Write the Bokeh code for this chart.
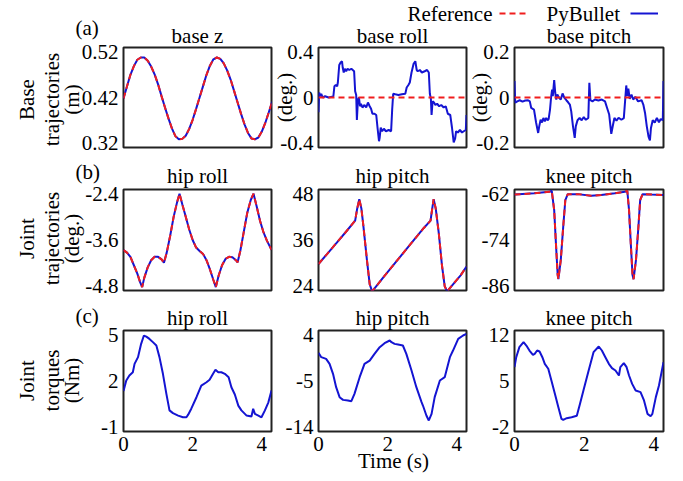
import math
from bokeh.plotting import figure
from bokeh.models import (Range1d, FixedTicker, Label, Legend, LegendItem, GridBox, Spacer)
from bokeh.layouts import column, row
from bokeh.embed import file_html
from bokeh.resources import INLINE
from bokeh.core.properties import value

FONT = "Liberation Serif"
BLUE = "#1414d2"
RED = "#f01e1e"
T_END = 4.28

# ---------------- data ----------------
x_ticks = [0, 2, 4]
x_tick_labels = ["0", "2", "4"]

# (a) base z  (m)
t_base_z = [0.0, 0.1, 0.2, 0.3, 0.4, 0.5, 0.6, 0.7, 0.8, 0.9, 1.0, 1.1, 1.2, 1.3, 1.4,
            1.5, 1.6, 1.7, 1.8, 1.9, 2.0, 2.1, 2.2, 2.3, 2.4, 2.5, 2.6, 2.7, 2.8, 2.9,
            3.0, 3.1, 3.2, 3.3, 3.4, 3.5, 3.6, 3.7, 3.8, 3.9, 4.0, 4.1, 4.2, 4.3]
base_z = [0.418, 0.444, 0.470, 0.489, 0.503, 0.508, 0.508, 0.501, 0.488, 0.471, 0.449,
          0.423, 0.398, 0.374, 0.352, 0.335, 0.328, 0.329, 0.336, 0.351, 0.371, 0.395,
          0.420, 0.445, 0.470, 0.490, 0.504, 0.508, 0.505, 0.495, 0.479, 0.459, 0.434,
          0.409, 0.384, 0.361, 0.342, 0.330, 0.328, 0.332, 0.345, 0.364, 0.387, 0.411]
base_z_ref = base_z

# (a) base roll (deg.)
t_base_roll = [0.00, 0.02, 0.05, 0.08, 0.12, 0.19, 0.29, 0.39, 0.43, 0.46, 0.50, 0.54, 0.56,
               0.60, 0.64, 0.68, 0.70, 0.73, 0.76, 0.80, 0.84, 0.89, 0.95, 0.99, 1.03, 1.06,
               1.09, 1.11, 1.14, 1.17, 1.20, 1.23, 1.27, 1.33, 1.38, 1.43, 1.48, 1.52, 1.56,
               1.62, 1.67, 1.71, 1.75, 1.77, 1.80, 1.84, 1.89, 1.95, 2.03, 2.10, 2.13, 2.16,
               2.22, 2.31, 2.41, 2.51, 2.55, 2.60, 2.64, 2.69, 2.75, 2.80, 2.84, 2.87, 2.93,
               2.99, 3.07, 3.14, 3.19, 3.22, 3.25, 3.27, 3.30, 3.34, 3.38, 3.43, 3.49, 3.55,
               3.62, 3.68, 3.74, 3.81, 3.86, 3.91, 3.95, 3.98, 4.03, 4.09, 4.15, 4.20, 4.26,
               4.28]
base_roll = [-0.13, 0.044, 0.011, 0.033, 0.0, 0.011, 0.0, 0.006, 0.011, 0.099, 0.11, 0.099,
             0.132, 0.286, 0.308, 0.319, 0.264, 0.22, 0.253, 0.231, 0.253, 0.242, 0.253,
             0.242, 0.231, 0.055, 0.022, -0.198, -0.022, 0.0, -0.077, -0.055, -0.088,
             -0.066, -0.088, -0.044, -0.077, -0.099, -0.143, -0.143, -0.154, -0.275, -0.385,
             -0.352, -0.264, -0.297, -0.275, -0.297, -0.286, -0.297, -0.11, 0.033, 0.028,
             0.022, 0.028, 0.033, 0.088, 0.11, 0.132, 0.22, 0.297, 0.319, 0.242, 0.231,
             0.242, 0.22, 0.231, 0.242, 0.22, 0.033, -0.011, -0.154, -0.033, -0.044, -0.066,
             -0.055, -0.077, -0.066, -0.088, -0.077, -0.143, -0.154, -0.264, -0.396, -0.363,
             -0.297, -0.308, -0.286, -0.308, -0.297, -0.286, -0.154]

# (a) base pitch (deg.)
t_base_pitch = [0.00, 0.02, 0.08, 0.15, 0.23, 0.31, 0.39, 0.44, 0.48, 0.56, 0.62, 0.68, 0.71,
                0.75, 0.79, 0.83, 0.87, 0.91, 0.95, 0.98, 1.02, 1.05, 1.08, 1.10, 1.14, 1.17,
                1.20, 1.23, 1.28, 1.33, 1.38, 1.43, 1.49, 1.54, 1.59, 1.63, 1.68, 1.73, 1.76,
                1.81, 1.87, 1.93, 1.99, 2.05, 2.12, 2.15, 2.18, 2.24, 2.31, 2.41, 2.51, 2.60,
                2.66, 2.72, 2.78, 2.83, 2.87, 2.93, 2.99, 3.07, 3.14, 3.18, 3.21, 3.24, 3.27,
                3.31, 3.36, 3.41, 3.47, 3.55, 3.65, 3.70, 3.75, 3.80, 3.85, 3.89, 3.92, 3.97,
                4.03, 4.09, 4.15, 4.20, 4.26, 4.28]
base_pitch = [0.073, -0.023, -0.017, -0.012, -0.018, -0.013, -0.012, -0.017, -0.046, -0.053,
              -0.11, -0.156, -0.127, -0.098, -0.11, -0.09, -0.105, -0.09, -0.1, -0.095,
              -0.053, -0.001, 0.035, 0.006, 0.077, 0.021, -0.009, 0.013, -0.001, -0.009,
              0.018, -0.001, -0.012, -0.021, -0.031, -0.061, -0.127, -0.178, -0.127, -0.1,
              -0.09, -0.1, -0.086, -0.098, -0.09, 0.065, -0.012, -0.017, -0.009, -0.013,
              -0.009, -0.017, -0.046, -0.075, -0.16, -0.12, -0.09, -0.102, -0.089, -0.098,
              -0.091, -0.009, 0.053, 0.006, 0.039, -0.006, 0.013, -0.009, 0.003, -0.017,
              -0.012, -0.031, -0.068, -0.127, -0.172, -0.189, -0.134, -0.1, -0.11, -0.09,
              -0.109, -0.095, -0.1, 0.073]

t_zero_ref = [0.0, 4.28]
zero_ref = [0.0, 0.0]

# (b) hip roll (deg.)
t_hip_roll = [0.0, 0.1, 0.2, 0.3, 0.4, 0.48, 0.54, 0.6, 0.7, 0.8, 0.9, 1.0, 1.1, 1.17, 1.25,
              1.35, 1.45, 1.55, 1.62, 1.7, 1.8, 1.9, 2.0, 2.1, 2.2, 2.3, 2.4, 2.5, 2.6, 2.67,
              2.75, 2.85, 2.95, 3.05, 3.15, 3.25, 3.30, 3.38, 3.48, 3.58, 3.68, 3.76, 3.85,
              3.95, 4.05, 4.15, 4.28]
hip_roll = [-3.864, -3.93, -4.04, -4.26, -4.48, -4.70, -4.83, -4.59, -4.315, -4.128, -4.04,
            -4.04, -4.106, -4.194, -3.93, -3.49, -2.995, -2.61, -2.39, -2.665, -2.995, -3.325,
            -3.6, -3.798, -3.886, -3.963, -4.128, -4.37, -4.645, -4.83, -4.535, -4.26, -4.095,
            -4.04, -4.051, -4.128, -4.183, -3.875, -3.38, -2.885, -2.555, -2.39, -2.72, -3.105,
            -3.402, -3.622, -3.853]
hip_roll_ref = hip_roll

# (b) hip pitch (deg.)
t_hip_pitch = [0.0, 0.24, 0.53, 0.82, 1.06, 1.12, 1.18, 1.24, 1.30, 1.40, 1.48, 1.55, 1.61,
               1.88, 2.27, 2.66, 3.04, 3.24, 3.29, 3.33, 3.39, 3.48, 3.57, 3.65, 3.72, 3.78,
               4.11, 4.28]
hip_pitch = [29.73, 32.26, 35.34, 38.42, 41.06, 44.25, 46.67, 44.25, 39.52, 30.83, 24.45,
             22.58, 23.24, 26.32, 30.61, 34.9, 39.08, 41.06, 44.25, 46.67, 44.25, 37.65, 29.4,
             23.9, 22.58, 23.24, 26.76, 29.07]
hip_pitch_ref = hip_pitch

# (b) knee pitch (deg.)
t_knee_pitch = [0.0, 0.56, 1.0, 1.07, 1.14, 1.19, 1.24, 1.26, 1.33, 1.40, 1.46, 1.53, 1.82,
                2.20, 2.49, 2.88, 3.17, 3.24, 3.29, 3.34, 3.39, 3.42, 3.49, 3.56, 3.61, 3.68,
                3.94, 4.28]
knee_pitch = [-62.12, -61.79, -61.405, -61.13, -66.19, -74.88, -83.13, -84.23, -79.17, -70.48,
              -63.55, -62.01, -62.01, -62.45, -62.23, -61.79, -61.405, -61.13, -66.19, -74.88,
              -83.13, -84.23, -79.17, -70.48, -63.55, -62.01, -62.12, -62.23]
knee_pitch_ref = knee_pitch

# (c) hip roll torque (Nm)
t_hip_roll_tau = [0.0, 0.08, 0.17, 0.27, 0.32, 0.42, 0.51, 0.59, 0.66, 0.75, 0.85, 0.95, 1.04,
                  1.14, 1.24, 1.33, 1.43, 1.58, 1.72, 1.82, 1.87, 1.96, 2.11, 2.25, 2.40, 2.49,
                  2.59, 2.66, 2.74, 2.83, 2.93, 3.04, 3.12, 3.22, 3.32, 3.41, 3.56, 3.70, 3.75,
                  3.80, 3.90, 3.99, 4.09, 4.19, 4.28]
hip_roll_tau = [1.34, 2.03, 2.36, 2.57, 3.12, 3.56, 4.43, 4.97, 4.90, 4.75, 4.54, 4.32, 3.56,
                2.47, 1.16, 0.08, -0.10, -0.26, -0.37, -0.37, -0.2, 0.19, 0.94, 1.70, 1.92,
                2.08, 2.47, 2.73, 2.57, 2.57, 2.47, 2.25, 1.59, 1.12, 0.39, 0.08, -0.26, -0.32,
                0.19, -0.15, -0.26, -0.37, 0.08, 0.61, 1.38]

# (c) hip pitch torque (Nm)
t_hip_pitch_tau = [0.0, 0.08, 0.22, 0.32, 0.42, 0.51, 0.61, 0.71, 0.85, 0.95, 1.04, 1.19, 1.33,
                   1.48, 1.62, 1.77, 1.91, 2.06, 2.11, 2.20, 2.30, 2.44, 2.54, 2.69, 2.83, 2.98,
                   3.02, 3.12, 3.19, 3.27, 3.36, 3.51, 3.65, 3.80, 3.89, 4.04, 4.18, 4.28]
hip_pitch_tau = [0.52, -0.33, -0.66, -1.63, -3.59, -6.21, -8.17, -8.70, -8.83, -8.96, -7.52,
                 -4.25, -1.63, -0.99, 0.32, 1.63, 2.41, 2.94, 2.61, 2.28, 2.15, 1.96, 0.32, -2.94,
                 -6.21, -9.15, -9.81, -11.77, -12.74, -11.44, -8.17, -4.90, -4.25, -0.33, 0.97,
                 3.26, 3.92, 4.25]

# (c) knee pitch torque (Nm)
t_knee_pitch_tau = [0.0, 0.05, 0.14, 0.26, 0.34, 0.43, 0.53, 0.58, 0.65, 0.72, 0.80, 0.87, 0.97,
                    1.06, 1.16, 1.26, 1.35, 1.40, 1.50, 1.64, 1.79, 1.88, 1.98, 2.13, 2.27, 2.42,
                    2.51, 2.61, 2.71, 2.80, 2.90, 3.00, 3.04, 3.14, 3.22, 3.29, 3.38, 3.48, 3.62,
                    3.72, 3.82, 3.91, 3.96, 4.06, 4.15, 4.28]
knee_pitch_tau = [7.11, 8.63, 10.16, 10.92, 10.41, 9.65, 8.99, 9.15, 9.65, 9.50, 8.63, 7.62,
                  6.86, 5.08, 3.04, 1.01, -0.78, -0.92, -0.67, -0.52, -0.31, 1.51, 3.55, 6.60,
                  9.40, 10.26, 9.65, 8.63, 7.62, 6.96, 6.60, 5.84, 7.11, 7.72, 7.11, 5.84, 4.56,
                  3.55, 3.30, 2.03, -0.01, -0.37, -0.01, 2.54, 4.32, 7.87]

# y ticks and their labels
ticks = {
    "a1": ([0.32, 0.42, 0.52], ["0.32", "0.42", "0.52"]),
    "a2": ([-0.4, 0.0, 0.4], ["-0.4", "0", "0.4"]),
    "a3": ([-0.2, 0.0, 0.2], ["-0.2", "0", "0.2"]),
    "b1": ([-4.8, -3.6, -2.4], ["-4.8", "-3.6", "-2.4"]),
    "b2": ([24, 36, 48], ["24", "36", "48"]),
    "b3": ([-86, -74, -62], ["-86", "-74", "-62"]),
    "c1": ([-1, 2, 5], ["-1", "2", "5"]),
    "c2": ([-14, -5, 4], ["-14", "-5", "4"]),
    "c3": ([-2, 5, 12], ["-2", "5", "12"]),
}
titles = {"a1": "base z", "a2": "base roll", "a3": "base pitch",
          "b1": "hip roll", "b2": "hip pitch", "b3": "knee pitch",
          "c1": "hip roll", "c2": "hip pitch", "c3": "knee pitch"}

# ---------------- layout ----------------
COLS = [dict(w=269, bl=115, br=6), dict(w=195, bl=41, br=6), dict(w=203, bl=42, br=12)]
ROWS = [dict(h=152, bt=39, bb=13, ts=0), dict(h=140, bt=29, bb=10, ts=3),
        dict(h=173, bt=30, bb=42, ts=1)]


def panel(key, ci, ri, t, y, t_ref=None, y_ref=None):
    c, r = COLS[ci], ROWS[ri]
    tk, tl = ticks[key]
    lo, hi = tk[0], tk[-1]
    pad = 0.05 * (hi - lo)
    p = figure(width=c["w"], height=r["h"], min_border_left=c["bl"], min_border_right=c["br"],
               min_border_top=r["bt"], min_border_bottom=r["bb"],
               x_range=Range1d(0, T_END), y_range=Range1d(lo - pad, hi + pad),
               output_backend="svg", toolbar_location=None, title=titles[key])
    p.title.text_font = FONT
    p.title.text_font_size = "21px"
    p.title.text_font_style = "normal"
    p.title.text_color = "black"
    p.title.align = "center"
    p.title.standoff = r["ts"]
    p.xgrid.visible = False
    p.ygrid.visible = False
    p.outline_line_color = "#222222"
    p.outline_line_width = 2
    p.outline_line_alpha = 1.0
    p.background_fill_color = "white"
    p.border_fill_color = "white"
    for ax in (p.xaxis[0], p.yaxis[0]):
        ax.axis_line_color = None
        ax.major_tick_in = 0
        ax.major_tick_out = 0
        ax.minor_tick_in = 0
        ax.minor_tick_out = 0
        ax.major_tick_line_color = None
        ax.minor_tick_line_color = None
        ax.major_label_text_font = FONT
        ax.major_label_text_font_size = "21px"
        ax.major_label_text_color = "black"
    p.yaxis.ticker = FixedTicker(ticks=tk)
    p.yaxis.major_label_overrides = dict(zip(tk, tl))
    p.yaxis.major_label_standoff = 5
    p.xaxis.ticker = FixedTicker(ticks=x_ticks)
    p.xaxis.major_label_overrides = dict(zip(x_ticks, x_tick_labels))
    p.xaxis.major_label_standoff = 5
    if ri < 2:
        p.xaxis.visible = False
    p.line(t, y, line_color=BLUE, line_width=2)
    if t_ref is not None:
        p.line(t_ref, y_ref, line_color=RED, line_width=2, line_dash="6 4")
    return p


pa1 = panel("a1", 0, 0, t_base_z, base_z, t_base_z, base_z_ref)
pa2 = panel("a2", 1, 0, t_base_roll, base_roll, t_zero_ref, zero_ref)
pa3 = panel("a3", 2, 0, t_base_pitch, base_pitch, t_zero_ref, zero_ref)
pb1 = panel("b1", 0, 1, t_hip_roll, hip_roll, t_hip_roll, hip_roll_ref)
pb2 = panel("b2", 1, 1, t_hip_pitch, hip_pitch, t_hip_pitch, hip_pitch_ref)
pb3 = panel("b3", 2, 1, t_knee_pitch, knee_pitch, t_knee_pitch, knee_pitch_ref)
pc1 = panel("c1", 0, 2, t_hip_roll_tau, hip_roll_tau)
pc2 = panel("c2", 1, 2, t_hip_pitch_tau, hip_pitch_tau)
pc3 = panel("c3", 2, 2, t_knee_pitch_tau, knee_pitch_tau)

inner = column(row(pa1, pa2, pa3), row(pb1, pb2, pb3), row(pc1, pc2, pc3))
main = column(Spacer(width=675, height=8), row(Spacer(width=8, height=465), inner))

# ---------------- overlay with free texts and legend (image pixel frame) ----------------
W, H = 675, 473
ov = figure(width=W, height=H, x_range=Range1d(0, W), y_range=Range1d(0, H),
            x_axis_type=None, y_axis_type=None, min_border=0, toolbar_location=None,
            output_backend="svg", outline_line_color=None,
            background_fill_color=None, border_fill_color=None)
ov.grid.visible = False


def txt(x, y_img, s, angle=0.0, align="left", size="21px"):
    ov.add_layout(Label(x=x, y=H - y_img, x_units="screen", y_units="screen", text=s,
                        angle=angle, text_font=FONT, text_font_size=size,
                        text_color="black", text_align=align, text_baseline="middle"))


V = math.pi / 2
# row labels (centres)
for yc, lines in [(99, ["Base", "trajectories", "(m)"]),
                  (238, ["Joint", "trajectories", "(deg.)"]),
                  (380, ["Joint", "torques", "(Nm)"])]:
    for xc, s in zip([26, 51, 71], lines):
        txt(xc, yc, s, angle=V, align="center")
txt(284, 97, "(deg.)", angle=V, align="center")
txt(479, 97, "(deg.)", angle=V, align="center")
# panel letters
txt(75, 27, "(a)")
txt(75, 171, "(b)")
txt(75, 315, "(c)")
# x label
txt(393, 460, "Time (s)", align="center")
# legend texts (drawn left of each sample, as in the figure)
txt(492, 13, "Reference", align="right")
txt(546, 13, "PyBullet")

# legend samples: hidden proxy renderers carrying the series styles
leg_ref = ov.line(t_zero_ref, zero_ref, line_color=RED, line_width=2, line_dash="6 4",
                  visible=False)
leg_pyb = ov.line(t_base_pitch, base_pitch, line_color=BLUE, line_width=2, visible=False)
for rr, loc, gw in [(leg_ref, (499, H - 18), 29), (leg_pyb, (630, H - 18), 28)]:
    lg = Legend(items=[LegendItem(label=value(" "), renderers=[rr])], location=loc,
                glyph_width=gw, glyph_height=10, label_width=0, label_height=10,
                label_standoff=0, padding=0, margin=0, spacing=0,
                label_text_font_size="10px",
                border_line_color=None, background_fill_alpha=0)
    ov.add_layout(lg)

grid = GridBox(children=[(main, 0, 0), (ov, 0, 0)])

open("out.html", "w").write(file_html(grid, INLINE))
